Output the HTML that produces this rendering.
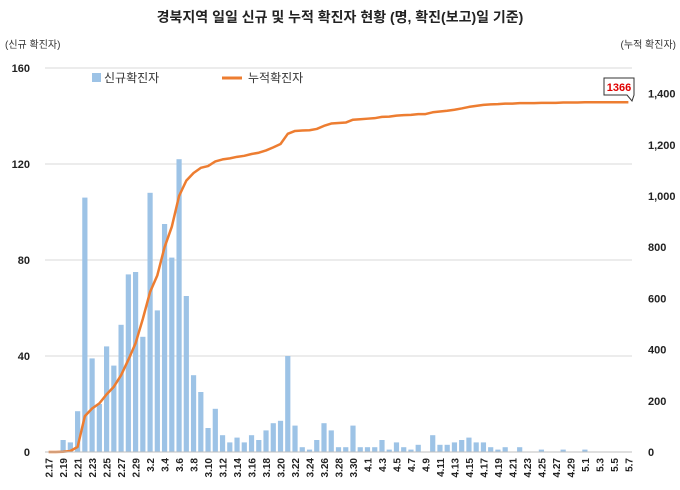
<!DOCTYPE html>
<html><head><meta charset="utf-8"><style>
body{margin:0;background:#fff;font-family:"Liberation Sans","Noto Sans CJK KR",sans-serif}
svg text{font-family:"Liberation Sans","Noto Sans CJK KR",sans-serif}
</style></head><body>
<svg id="c" width="680" height="485">
<text x="340" y="22" text-anchor="middle" font-size="14" font-weight="bold" fill="#222">경북지역 일일 신규 및 누적 확진자 현황 (명, 확진(보고)일 기준)</text>
<text x="5" y="48" font-size="10" fill="#333">(신규 확진자)</text>
<text x="676" y="48" font-size="10" fill="#333" text-anchor="end">(누적 확진자)</text>
<g>
<rect x="92" y="73" width="9" height="9" fill="#9dc3e6"/>
<text x="104" y="82" font-size="12" fill="#333">신규확진자</text>
<line x1="222" y1="78" x2="242" y2="78" stroke="#ed7d31" stroke-width="3"/>
<text x="248" y="82" font-size="12" fill="#333">누적확진자</text>
</g>
<g id="grid"></g><g id="bars"></g><g id="line"></g><g id="axes"></g>
<g>
<path d="M604 78 H634 V95 H634 L632 101 L627 95 H604 Z" fill="#fff" stroke="#333" stroke-width="1"/>
<text x="619" y="91" font-size="11" font-weight="bold" fill="#e00000" text-anchor="middle" font-family="Liberation Serif">1366</text>
</g>
</svg>
<script>
const categories=[];
const months=[[2,17,29],[3,1,31],[4,1,30],[5,1,7]];
for(const [m,a,b] of months)for(let d=a;d<=b;d++)categories.push(m+'.'+d);
const newCases=[0,0,5,4,17,106,39,20,44,36,53,74,75,
48,108,59,95,81,122,65,32,25,10,18,7,4,6,4,7,5,9,12,13,40,11,2,1,5,12,9,2,2,11,2,
2,2,5,1,4,2,1,3,0,7,3,3,4,5,6,4,4,2,1,2,0,2,0,0,1,0,0,1,0,0,
1,0,0,0,0,0,0];
const cumCases=[0,0,1,4,20,140,170,190,225,255,300,360,425,
520,625,690,800,880,1000,1060,1090,1110,1117,1135,1143,1147,1153,1157,1164,1169,1178,1190,1203,1243,1254,1256,1257,1262,1274,1283,1285,1287,1298,1300,
1302,1304,1309,1310,1314,1316,1317,1320,1320,1327,1330,1333,1337,1342,1348,1352,1356,1358,1359,1361,1361,1363,1363,1363,1364,1364,1364,1365,1365,1365,
1366,1366,1366,1366,1366,1366,1366];
const leftTicks=[0,40,80,120,160];
const rightTicks=[0,200,400,600,800,1000,1200,1400];
const rightLabels=['0','200','400','600','800','1,000','1,200','1,400'];
const X0=45,X1=632,Y0=452,Y1=68;
const n=categories.length,step=(X1-X0)/n;
const xs=i=>X0+step*(i+0.5);
const yL=v=>Y0-(v/160)*(Y0-Y1);
const yR=v=>Y0-(v/1500)*(Y0-Y1);
const NS='http://www.w3.org/2000/svg';
function mk(t,p,a){const e=document.createElementNS(NS,t);for(const k in a)e.setAttribute(k,a[k]);p.appendChild(e);return e;}
const grid=document.getElementById('grid'),bars=document.getElementById('bars'),line=document.getElementById('line'),axes=document.getElementById('axes');
leftTicks.forEach(v=>{
 const g=mk('line',grid,{x1:X0,x2:X1,y1:yL(v),y2:yL(v),stroke:'#d9d9d9'});
 
 
 const t=mk('text',axes,{x:30,y:yL(v)+4,'text-anchor':'end','font-size':11,'font-weight':'bold',fill:'#222'});
 t.textContent=v;
 
 
});
rightTicks.forEach((v,i)=>{
 const t=mk('text',axes,{x:648,y:yR(v)+4,'font-size':11,'font-weight':'bold',fill:'#222'});
 t.textContent=rightLabels[i];
 
 
});
newCases.forEach((v,i)=>{
 const r=mk('rect',bars,{x:xs(i)-2.6,y:yL(v),width:5.2,height:Y0-yL(v),fill:'#9dc3e6'});
 
 
});
const p=mk('polyline',line,{points:cumCases.map((v,i)=>xs(i)+','+yR(v)).join(' '),fill:'none',stroke:'#ed7d31','stroke-width':2.5,'stroke-linejoin':'round'});


mk('line',axes,{x1:X0,x2:X1,y1:Y0,y2:Y0,stroke:'#bfbfbf'});
categories.forEach((c,i)=>{
 if(i%2)return;
 const x=xs(i),t=mk('text',axes,{x:0,y:0,'font-size':10,'font-weight':'bold',fill:'#222','text-anchor':'end',transform:'translate('+(x+4)+','+(Y0+6)+') rotate(-90)'});
 t.textContent=c;
 
 
});
</script>
</body></html>
